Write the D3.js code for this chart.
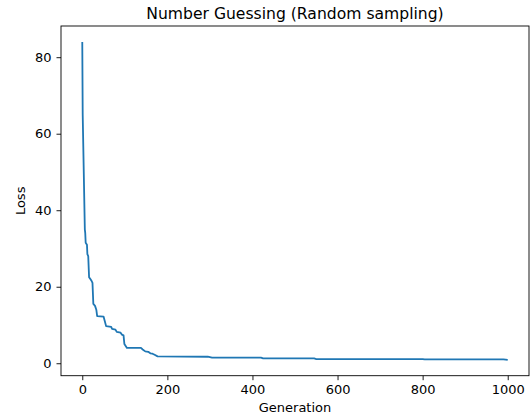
<!DOCTYPE html>
<html lang="en">
<head>
  <meta charset="utf-8">
  <title>Number Guessing</title>
  <script src="https://d3js.org/d3.v7.min.js"></script>
  <style>
    body { margin: 0; background: #fff; }
    text { font-family: "DejaVu Sans", sans-serif; fill: #000; }
  </style>
</head>
<body>
  <script>
    var w = 530;
    var h = 417;

    // best loss so far (generation, loss)
    var generations = [0, 1, 6, 7, 8, 11, 12, 14, 16, 19, 22, 24, 26, 30, 33, 35, 50, 53, 56, 68, 70, 78, 81, 90, 93, 97, 99, 102, 105, 138, 142, 148, 155, 160, 165, 170, 177, 295, 305, 420, 425, 545, 550, 800, 805, 990, 1000];
    var losses = [84, 65, 35, 34, 31.5, 31, 28.5, 28, 22.5, 22, 21.5, 21, 15.5, 15, 14, 12.3, 12.2, 11, 9.7, 9.5, 9, 8.8, 8.2, 8, 7.5, 7.3, 5, 4.5, 4, 4, 3.6, 3.1, 3, 2.6, 2.5, 2.2, 1.8, 1.7, 1.45, 1.45, 1.25, 1.25, 1.1, 1.1, 1.0, 1.0, 0.9];
    var xTicks = [0, 200, 400, 600, 800, 1000];
    var yTicks = [0, 20, 40, 60, 80];

    var data = generations.map(function(g, i) { return { g: g, loss: losses[i] }; });

    var plotLeft = 61, plotRight = 529, plotTop = 26, plotBottom = 375.7;

    var svg = d3.select("body").append("svg")
      .attr("width", w)
      .attr("height", h);

    // matplotlib style 5% margins
    var xMin = d3.min(generations), xMax = d3.max(generations);
    var yMin = d3.min(losses), yMax = d3.max(losses);
    var xPad = (xMax - xMin) * 0.05, yPad = (yMax - yMin) * 0.05;

    var x = d3.scaleLinear().domain([xMin - xPad, xMax + xPad]).range([plotLeft, plotRight]);
    var y = d3.scaleLinear().domain([yMin - yPad, yMax + yPad]).range([plotBottom, plotTop]);

    var line = d3.line()
      .x(function(d) { return x(d.g); })
      .y(function(d) { return y(d.loss); });

    svg.append("path")
      .datum(data)
      .attr("fill", "none")
      .attr("stroke", "#1f77b4")
      .attr("stroke-width", 1.8)
      .attr("stroke-linejoin", "round")
      .attr("d", line);

    // axes
    var xAxis = svg.append("g")
      .attr("transform", "translate(0," + plotBottom + ")")
      .call(d3.axisBottom(x).tickValues(xTicks).tickFormat(d3.format("d"))
        .tickSize(4.5).tickPadding(5).tickSizeOuter(0));
    var yAxis = svg.append("g")
      .attr("transform", "translate(" + plotLeft + ",0)")
      .call(d3.axisLeft(y).tickValues(yTicks).tickFormat(d3.format("d"))
        .tickSize(4.5).tickPadding(5).tickSizeOuter(0));

    [xAxis, yAxis].forEach(function(a) {
      a.attr("font-size", 13).attr("font-family", "DejaVu Sans, sans-serif");
      a.select(".domain").remove();
      a.selectAll("line").attr("stroke", "#000").attr("stroke-width", 0.9);
    });

    // frame
    svg.append("rect")
      .attr("x", plotLeft)
      .attr("y", plotTop)
      .attr("width", plotRight - plotLeft)
      .attr("height", plotBottom - plotTop)
      .attr("fill", "none")
      .attr("stroke", "#000")
      .attr("stroke-width", 0.9);

    svg.append("text")
      .attr("x", (plotLeft + plotRight) / 2)
      .attr("y", 18.5)
      .attr("text-anchor", "middle")
      .style("font-size", "15.6px")
      .text("Number Guessing (Random sampling)");

    svg.append("text")
      .attr("x", (plotLeft + plotRight) / 2)
      .attr("y", 412)
      .attr("text-anchor", "middle")
      .style("font-size", "13px")
      .text("Generation");

    svg.append("text")
      .attr("transform", "translate(25," + (plotTop + plotBottom) / 2 + ") rotate(-90)")
      .attr("text-anchor", "middle")
      .style("font-size", "13px")
      .text("Loss");
  </script>
</body>
</html>
